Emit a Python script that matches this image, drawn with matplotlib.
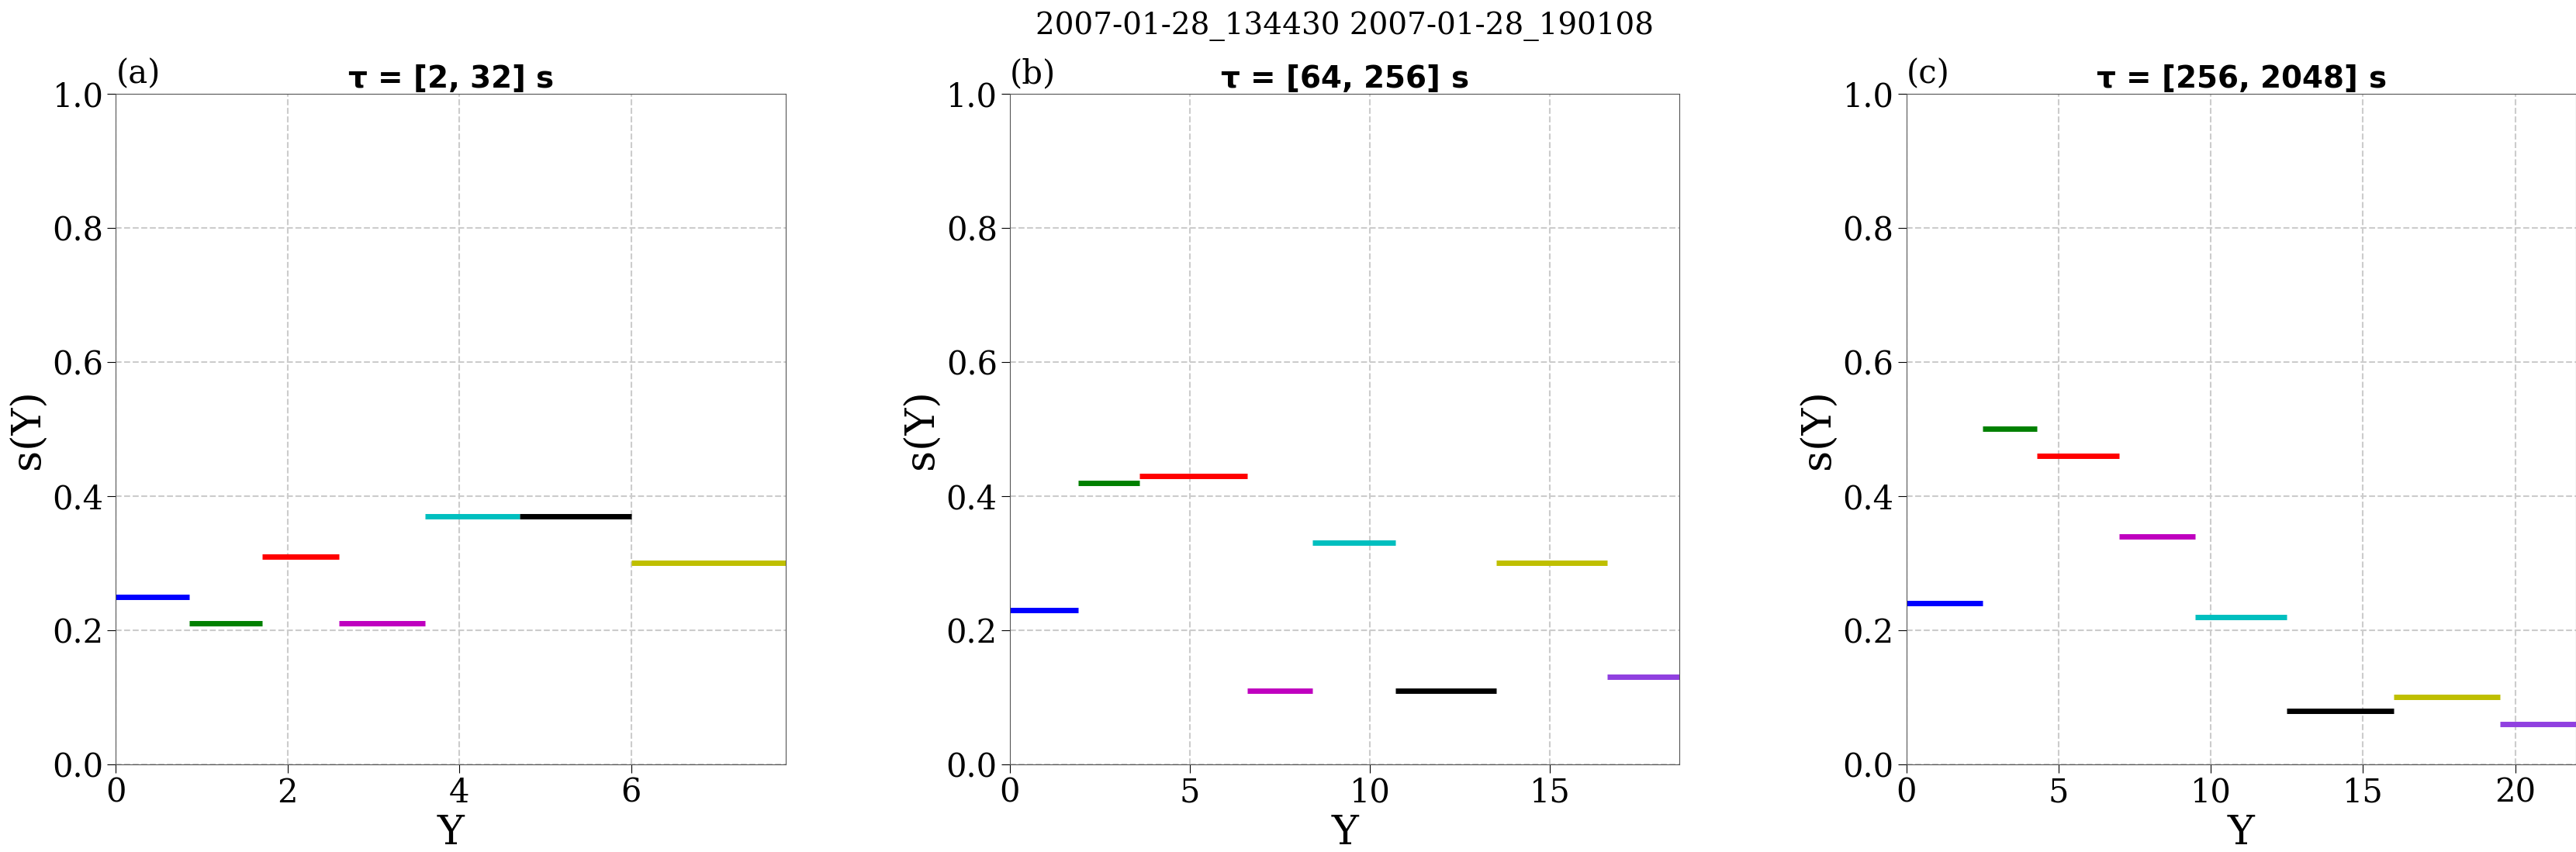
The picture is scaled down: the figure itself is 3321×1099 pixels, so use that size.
import matplotlib
matplotlib.use("Agg")
import matplotlib.pyplot as plt

# segment edges and s(Y) values for each panel
edges_a = [0, 0.85, 1.7, 2.6, 3.6, 4.7, 6.0, 7.8]
vals_a = [0.25, 0.21, 0.31, 0.21, 0.37, 0.37, 0.30]
edges_b = [0, 1.9, 3.6, 6.6, 8.4, 10.7, 13.5, 16.6, 18.6]
vals_b = [0.23, 0.42, 0.43, 0.11, 0.33, 0.11, 0.30, 0.13]
edges_c = [0, 2.5, 4.3, 7.0, 9.5, 12.5, 16.0, 19.5, 22.0]
vals_c = [0.24, 0.50, 0.46, 0.34, 0.22, 0.08, 0.10, 0.06]

colors = ['b', 'g', 'r', 'm', 'c', 'k', 'y', '#9040e0']
titles = [r'$\mathbf{\tau}$ = [2, 32] s', r'$\mathbf{\tau}$ = [64, 256] s',
          r'$\mathbf{\tau}$ = [256, 2048] s']
letters = ['(a)', '(b)', '(c)']
xticks = [[0, 2, 4, 6], [0, 5, 10, 15], [0, 5, 10, 15, 20]]

fig = plt.figure(figsize=(33.21, 10.99), dpi=100)
lefts = [0.045, 0.392, 0.740]
panels = [(edges_a, vals_a), (edges_b, vals_b), (edges_c, vals_c)]
for i, (edges, vals) in enumerate(panels):
    ax = fig.add_axes([lefts[i], 0.103, 0.26, 0.787])
    for j, v in enumerate(vals):
        ax.hlines(v, edges[j], edges[j + 1], color=colors[j], lw=5)
    ax.set_xlim(edges[0], edges[-1])
    ax.set_ylim(0, 1)
    ax.set_xticks(xticks[i])
    ax.set_yticks([0, 0.2, 0.4, 0.6, 0.8, 1.0])
    ax.grid(True, ls='--', color='#cccccc', lw=1.5)
    ax.tick_params(labelsize=30, length=8)
    for lab in ax.get_xticklabels() + ax.get_yticklabels():
        lab.set_family('DejaVu Serif')
    ax.set_xlabel('Y', fontsize=38, family='DejaVu Serif')
    ax.set_ylabel('s(Y)', fontsize=38, family='DejaVu Serif')
    ax.set_title(titles[i], fontsize=28, fontweight='bold')
    ax.text(0.0, 1.005, letters[i], transform=ax.transAxes, fontsize=30,
            family='DejaVu Serif', va='bottom')
    for sp in ax.spines.values():
        sp.set_color('#555555')

fig.text(0.522, 0.96, '2007-01-28_134430 2007-01-28_190108', ha='center',
         fontsize=28, family='DejaVu Serif')
fig.savefig('out.png')
